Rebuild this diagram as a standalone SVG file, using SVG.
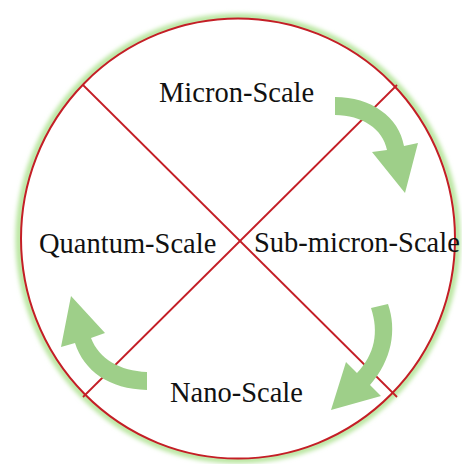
<svg xmlns="http://www.w3.org/2000/svg" width="462" height="464" viewBox="0 0 462 464">
  <defs>
    <style>
      .lbl { font-family: "Liberation Serif", "Times New Roman", serif; font-size: 28.5px; fill: #111111; }
      .red { fill: none; stroke: #c41e26; }
      .arrow { fill: #9ecf89; stroke: none; }
    </style>
    <filter id="glow" x="-10%" y="-10%" width="120%" height="120%">
      <feGaussianBlur stdDeviation="2.2"/>
    </filter>
  </defs>
  <rect width="462" height="464" fill="#ffffff"/>
  <g id="ring">
    <ellipse cx="238" cy="238.5" rx="219" ry="221.5" fill="none" stroke="#b9e6a0" stroke-width="7" filter="url(#glow)"/>
    <ellipse cx="238" cy="238.5" rx="217" ry="220" fill="#ffffff" stroke="#c41e26" stroke-width="2"/>
  </g>
  <g id="dividers" class="red" stroke-width="1.8">
    <line x1="83" y1="85" x2="397" y2="397"/>
    <line x1="397" y1="85" x2="83" y2="397"/>
  </g>
  <g id="micron"><text class="lbl" x="159" y="102">Micron-Scale</text></g>
  <g id="submicron"><text class="lbl" x="254" y="252">Sub-micron-Scale</text></g>
  <g id="nano"><text class="lbl" x="170" y="402">Nano-Scale</text></g>
  <g id="quantum"><text class="lbl" x="39" y="253">Quantum-Scale</text></g>
  <g id="connectors">
    <path class="arrow" d="M335,97 C371,97 399,117 404,146 L418,143 L405,193 L372,152 L387,150 C383,129 362,115 335,115 Z"/>
    <path class="arrow" d="M371,308 L388,304 C397,330 392,360 370,385 L381,396 L331,410 L346,362 L357,373 C375,354 379,332 371,308 Z"/>
    <path class="arrow" d="M147,372 L147,390 C109,389 84,371 75,343 L61,347 L71,296 L105,333 L91,338 C99,359 120,371 147,372 Z"/>
  </g>
</svg>
